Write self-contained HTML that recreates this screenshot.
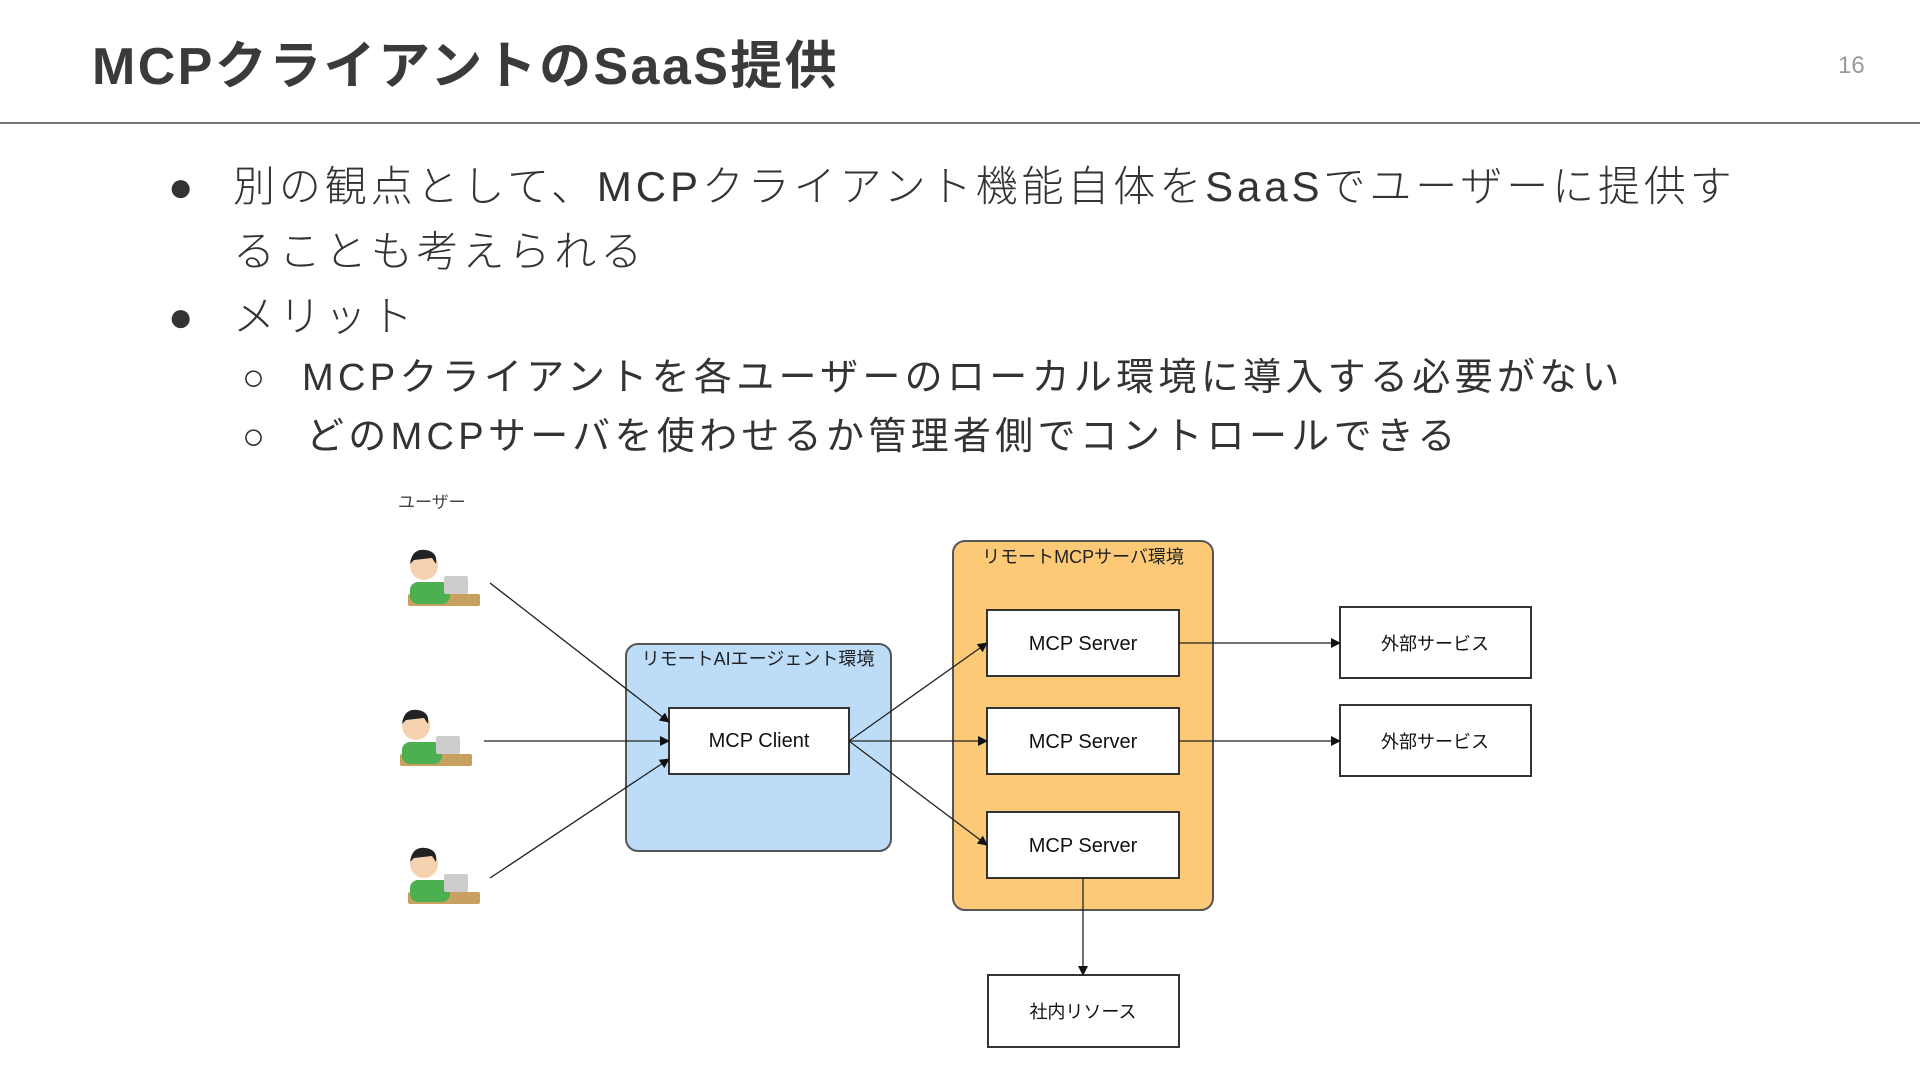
<!DOCTYPE html>
<html><head><meta charset="utf-8"><style>
body{margin:0;width:1920px;height:1080px;background:#fff;position:relative;overflow:hidden;font-family:"Liberation Sans","Noto Sans CJK JP",sans-serif;color:#333}
.a{position:absolute;white-space:nowrap}
.t{left:92px;top:32px;font-size:52px;font-weight:bold;color:#3a3a3a;line-height:70px;letter-spacing:2.4px}
.pg{left:1838px;top:52px;font-size:24px;color:#999}
.rule{left:0;top:122px;width:1920px;height:2px;background:#777}
.b{font-size:42px;line-height:56px;color:#333;font-weight:300;letter-spacing:3.9px}
.s{font-size:38px;line-height:52px;color:#333;letter-spacing:4.3px}
</style></head><body>
<div class="a t">MCPクライアントのSaaS提供</div>
<div class="a pg">16</div>
<div class="a rule"></div>
<div class="a b" style="left:168px;top:159px">●</div>
<div class="a b" style="left:233px;top:159px">別の観点として、MCPクライアント機能自体をSaaSでユーザーに提供す</div>
<div class="a b" style="left:233px;top:224px">ることも考えられる</div>
<div class="a b" style="left:168px;top:289px">●</div>
<div class="a b" style="left:233px;top:289px">メリット</div>
<div class="a s" style="left:242px;top:352px">○</div>
<div class="a s" style="left:302px;top:352px">MCPクライアントを各ユーザーのローカル環境に導入する必要がない</div>
<div class="a s" style="left:242px;top:411px">○</div>
<div class="a s" style="left:306px;top:411px">どのMCPサーバを使わせるか管理者側でコントロールできる</div>
<svg class="a" style="left:0;top:0" width="1920" height="1080">
<defs><marker id="ar" markerWidth="10" markerHeight="10" refX="9" refY="5" orient="auto" markerUnits="userSpaceOnUse"><path d="M0,0 L10,5 L0,10 z" fill="#111"/></marker>
<g id="u"><rect x="8" y="52" width="72" height="12" fill="#c8a060" rx="2"/><rect x="10" y="40" width="40" height="22" rx="8" fill="#4caf50"/><circle cx="24" cy="24" r="14" fill="#f6d2b0"/><path d="M10,22 Q12,6 26,8 Q38,10 36,22 L32,16 L14,18 z" fill="#222"/><rect x="44" y="34" width="24" height="18" fill="#ccc" rx="2"/></g></defs>
<text x="398" y="508" font-size="17" fill="#444">ユーザー</text>
<use href="#u" x="400" y="542"/><use href="#u" x="392" y="702"/><use href="#u" x="400" y="840"/>
<rect x="626" y="644" width="265" height="207" rx="12" fill="#bcdcf8" stroke="#555" stroke-width="2"/>
<text x="758" y="665" font-size="18" text-anchor="middle" fill="#222">リモートAIエージェント環境</text>
<rect x="669" y="708" width="180" height="66" fill="#fff" stroke="#333" stroke-width="2"/>
<text x="759" y="747" font-size="20" text-anchor="middle" fill="#111">MCP Client</text>
<rect x="953" y="541" width="260" height="369" rx="12" fill="#fcc977" stroke="#555" stroke-width="2"/>
<text x="1083" y="563" font-size="18" text-anchor="middle" fill="#222">リモートMCPサーバ環境</text>
<g fill="#fff" stroke="#333" stroke-width="2">
<rect x="987" y="610" width="192" height="66"/><rect x="987" y="708" width="192" height="66"/><rect x="987" y="812" width="192" height="66"/>
<rect x="1340" y="607" width="191" height="71"/><rect x="1340" y="705" width="191" height="71"/><rect x="988" y="975" width="191" height="72"/></g>
<g font-size="20" text-anchor="middle" fill="#111">
<text x="1083" y="650">MCP Server</text><text x="1083" y="748">MCP Server</text><text x="1083" y="852">MCP Server</text>
<text x="1435" y="650" font-size="18">外部サービス</text><text x="1435" y="748" font-size="18">外部サービス</text><text x="1083" y="1018" font-size="18">社内リソース</text></g>
<g stroke="#222" stroke-width="1.3" marker-end="url(#ar)">
<line x1="490" y1="583" x2="669" y2="722"/><line x1="484" y1="741" x2="669" y2="741"/><line x1="490" y1="878" x2="669" y2="759"/>
<line x1="849" y1="741" x2="987" y2="643"/><line x1="849" y1="741" x2="987" y2="741"/><line x1="849" y1="741" x2="987" y2="845"/>
<line x1="1179" y1="643" x2="1340" y2="643"/><line x1="1179" y1="741" x2="1340" y2="741"/><line x1="1083" y1="878" x2="1083" y2="975"/></g>
</svg>
</body></html>
